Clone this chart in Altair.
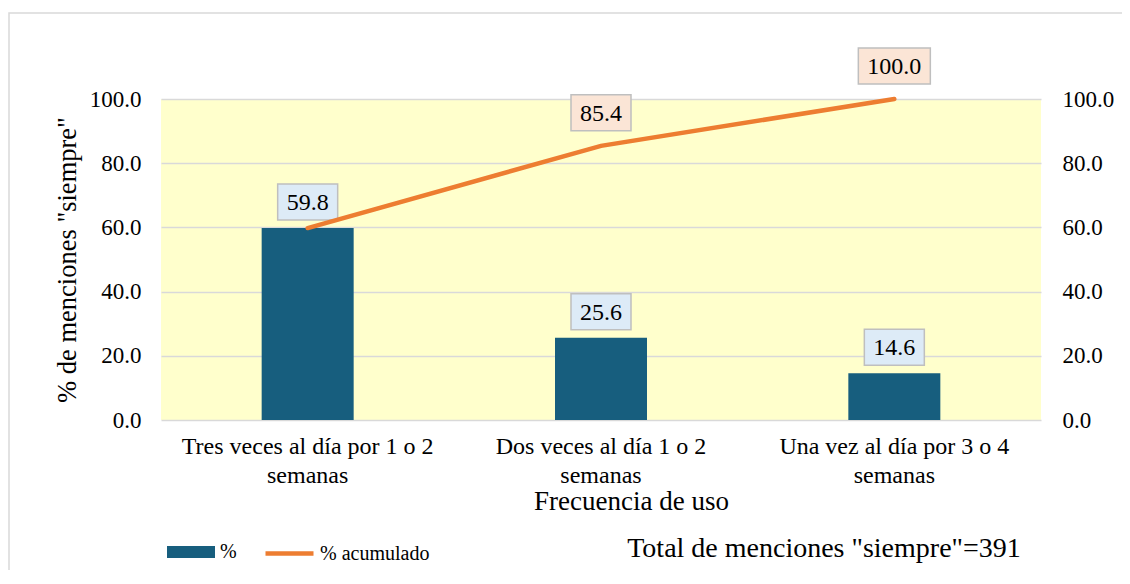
import altair as alt
import pandas as pd

categorias = [
    "Tres veces al día por 1 o 2 semanas",
    "Dos veces al día 1 o 2 semanas",
    "Una vez al día por 3 o 4 semanas",
]
porcentaje = [59.8, 25.6, 14.6]
acumulado = [59.8, 85.4, 100.0]
series = ["%", "% acumulado"]
total_texto = 'Total de menciones "siempre"=391'
y_ticks = [0, 20, 40, 60, 80, 100]

FONT = "Liberation Serif"
BLUE = "#175E7E"
ORANGE = "#ED7D31"
GRID = "#D9D9D9"


def box_shape(lbl):
    w = 12 * len(lbl) + 12
    r = 36 / w
    return f"M-1,{-r:.4f}L1,{-r:.4f}L1,{r:.4f}L-1,{r:.4f}Z", w * w


df = pd.DataFrame({"cat": categorias, "pct": porcentaje, "acum": acumulado})
df["pct_lbl"] = [f"{v:.1f}" for v in porcentaje]
df["acum_lbl"] = [f"{v:.1f}" for v in acumulado]
df["pct_shape"] = [box_shape(s)[0] for s in df["pct_lbl"]]
df["pct_size"] = [box_shape(s)[1] for s in df["pct_lbl"]]
df["acum_shape"] = [box_shape(s)[0] for s in df["acum_lbl"]]
df["acum_size"] = [box_shape(s)[1] for s in df["acum_lbl"]]
df["serie_bar"] = series[0]
df["serie_line"] = series[1]

x_enc = alt.X(
    "cat:N",
    sort=categorias,
    scale=alt.Scale(paddingInner=0, paddingOuter=0),
    axis=alt.Axis(
        title="Frecuencia de uso",
        titleFont=FONT,
        titleFontSize=27,
        titleFontWeight="normal",
        titleColor="#000",
        titleX=470,
        titleY=81,
        titleBaseline="middle",
        labelFont=FONT,
        labelFontSize=24,
        labelColor="#000",
        labelAngle=0,
        labelLineHeight=29,
        labelPadding=14,
        labelLimit=500,
        labelExpr="[substring(datum.label, 0, lastindexof(datum.label, ' ')), substring(datum.label, lastindexof(datum.label, ' ') + 1)]",
        domain=False,
        ticks=False,
    ),
)

yscale = alt.Scale(domain=[0, 100], nice=False)
axis_left = alt.Axis(
    values=y_ticks,
    format=".1f",
    title='% de menciones "siempre"',
    titleFont=FONT,
    titleFontSize=26.5,
    titleFontWeight="normal",
    titleColor="#000",
    titlePadding=8,
    labelFont=FONT,
    labelFontSize=23,
    labelColor="#000",
    labelPadding=20,
    grid=True,
    gridColor=GRID,
    gridWidth=1.5,
    domain=False,
    ticks=False,
)
axis_right = alt.Axis(
    orient="right",
    values=y_ticks,
    format=".1f",
    title=None,
    labelFont=FONT,
    labelFontSize=23,
    labelColor="#000",
    labelPadding=21,
    grid=False,
    domain=False,
    ticks=False,
)

legend_common = dict(
    title=None,
    orient="none",
    legendY=428,
    direction="horizontal",
    symbolSize=2304,
    labelFont=FONT,
    labelFontSize=20,
    labelColor="#000",
    labelOffset=4,
    padding=0,
)
legend_bar = alt.Legend(
    legendX=5,
    symbolType="M-1,-0.25L1,-0.25L1,0.25L-1,0.25Z",
    symbolOpacity=1,
    **legend_common,
)
legend_line = alt.Legend(
    legendX=102,
    symbolType="M-1,0L1,0",
    symbolStrokeWidth=4.5,
    **legend_common,
)

base = alt.Chart(df)

border = alt.Chart(alt.Data(values=[{"a": 1}])).mark_rect(
    fillOpacity=0, stroke=GRID, strokeWidth=1.5
).encode(
    x=alt.value(-152), x2=alt.value(1300), y=alt.value(-86), y2=alt.value(800)
)

bars = base.mark_bar(size=92, opacity=1).encode(
    x=x_enc,
    y=alt.Y("pct:Q", scale=yscale, axis=axis_left),
    color=alt.Color(
        "serie_bar:N", scale=alt.Scale(domain=[series[0]], range=[BLUE]), legend=legend_bar
    ),
)
bar_boxes = base.mark_point(
    filled=True, fill="#DDEBF7", stroke="#BFBFBF", strokeWidth=1.5, opacity=1, yOffset=-26
).encode(
    x=x_enc,
    y=alt.Y("pct:Q", scale=yscale, axis=axis_left),
    shape=alt.Shape("pct_shape:N", scale=None),
    size=alt.Size("pct_size:Q", scale=None),
)
bar_text = base.mark_text(
    font=FONT, fontSize=24, color="#000", baseline="middle", yOffset=-25
).encode(
    x=x_enc,
    y=alt.Y("pct:Q", scale=yscale, axis=axis_left),
    text="pct_lbl:N",
)

line = base.mark_line(strokeWidth=4.5, strokeCap="round").encode(
    x=x_enc,
    y=alt.Y("acum:Q", scale=yscale, axis=axis_right),
    stroke=alt.Stroke(
        "serie_line:N", scale=alt.Scale(domain=[series[1]], range=[ORANGE]), legend=legend_line
    ),
)
acum_lbls = base.transform_filter("datum.acum > datum.pct")
line_boxes = acum_lbls.mark_point(
    filled=True, fill="#FBE5D6", stroke="#BFBFBF", strokeWidth=1.5, opacity=1, yOffset=-33
).encode(
    x=x_enc,
    y=alt.Y("acum:Q", scale=yscale, axis=axis_right),
    shape=alt.Shape("acum_shape:N", scale=None),
    size=alt.Size("acum_size:Q", scale=None),
)
line_text = acum_lbls.mark_text(
    font=FONT, fontSize=24, color="#000", baseline="middle", yOffset=-32
).encode(
    x=x_enc,
    y=alt.Y("acum:Q", scale=yscale, axis=axis_right),
    text="acum_lbl:N",
)

total = alt.Chart(alt.Data(values=[{"t": total_texto}])).mark_text(
    font=FONT, fontSize=28, color="#000", baseline="middle", align="center"
).encode(x=alt.value(663), y=alt.value(450), text="t:N")

left_layer = alt.layer(border, bars, bar_boxes, bar_text)
right_layer = alt.layer(line, line_boxes, line_text, total)

chart = (
    alt.layer(left_layer, right_layer)
    .resolve_scale(y="independent")
    .properties(
        width=880,
        height=321,
        autosize=alt.AutoSizeParams(type="none"),
        padding={"left": 153, "top": 91, "right": 81, "bottom": 150},
        background="white",
    )
    .configure_view(fill="#FFFFCC", stroke=None)
)

chart.save("out.html", embed_options={"renderer": "svg", "actions": False})
